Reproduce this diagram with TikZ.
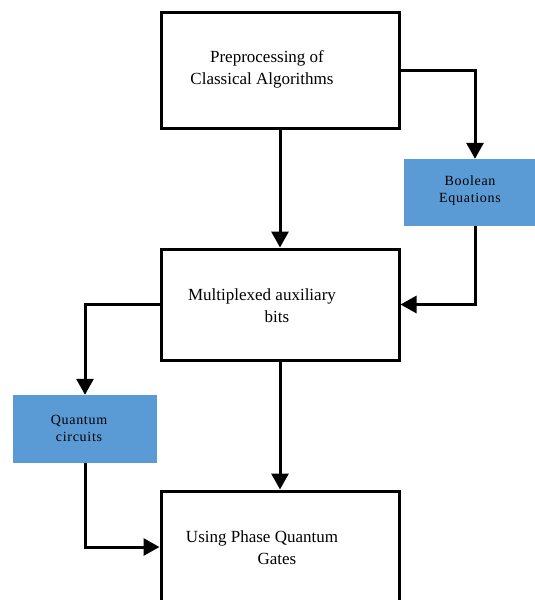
\documentclass[tikz,border=0pt]{standalone}
\usepackage{fontspec}
\setmainfont{Liberation Serif}
\usetikzlibrary{arrows.meta}
\begin{document}
\begin{tikzpicture}[x=1pt,y=-1pt,
        block/.style={draw,line width=3pt,fill=white,inner sep=0pt},
        stage/.style={block,minimum width=238pt},
        side/.style={fill=sidefill,inner sep=0pt},
        txt/.style={align=center,font=\fontsize{17}{22}\selectfont},
        smalltxt/.style={align=center,font=\fontsize{14}{17}\selectfont\addfontfeature{LetterSpace=5}},
        flow/.style={line width=3pt,-{Triangle[width=17pt,length=16pt]}}]
        \definecolor{sidefill}{HTML}{5B9BD5}
        \clip (0,0) rectangle (535,600);
        % the three main stages, top to bottom
        \node[stage,minimum height=116pt] (pre) at (280,70) {};
        \node[stage,minimum height=111pt] (mux) at (280,304.5) {};
        \node[stage,minimum height=150pt] (fin) at (280,566) {};
        \node[txt] (pre-t) at ([xshift=-18pt,yshift=1pt]pre.center) {\hspace*{10pt}Preprocessing of\\Classical Algorithms};
        \node[txt] (mux-t) at ([xshift=-18pt,yshift=-1pt]mux.center) {Multiplexed auxiliary\\\hspace*{30pt}bits};
        \node[txt] (fin-t) at ([xshift=-18pt,yshift=18pt]fin.center) {Using Phase Quantum\\\hspace*{30pt}Gates};

        % blue side boxes
        \node[side,minimum width=136pt,minimum height=67pt] (bool) at (472,192.5) {};
        \node[smalltxt] (bool-t) at (470,191) {Boolean\\Equations};
        \node[side,minimum width=144pt,minimum height=68pt] (qc) at (85,429) {};
        \node[smalltxt] (qc-t) at (79,428) {Quantum\\circuits};

        % connectors
        \draw[flow] (pre) -- (mux);
        \draw[flow] (pre.east) -| ([xshift=3pt]bool.north);
        \draw[flow] ([xshift=3pt]bool.south) |- (mux.east);
        \draw[flow] (mux.west) -| (qc.north);
        \draw[flow] (mux) -- (fin);
        \draw[flow] (qc.south) |- ([yshift=19pt]fin.west);
\end{tikzpicture}
\end{document}
